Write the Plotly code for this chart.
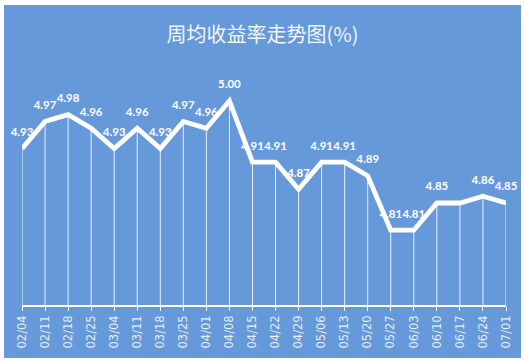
import plotly.graph_objects as go

dates = ["02/04", "02/11", "02/18", "02/25", "03/04", "03/11", "03/18", "03/25",
         "04/01", "04/08", "04/15", "04/22", "04/29", "05/06", "05/13", "05/20",
         "05/27", "06/03", "06/10", "06/17", "06/24", "07/01"]
values = [4.93, 4.97, 4.98, 4.96, 4.93, 4.96, 4.93, 4.97,
          4.96, 5.00, 4.91, 4.91, 4.87, 4.91, 4.91, 4.89,
          4.81, 4.81, 4.85, 4.85, 4.86, 4.85]
show_label = [True] * len(values)
show_label[19] = False  # hidden in the original (overlap)

y_min, y_max = 4.70, 5.05
blue = "#6699d9"

idx = list(range(len(dates)))
labels = [f"{v:.2f}" if s else "" for v, s in zip(values, show_label)]

drop_x, drop_y = [], []
for i, v in zip(idx, values):
    drop_x += [i, i, None]
    drop_y += [y_min, v, None]

fig = go.Figure()
fig.add_trace(go.Scatter(
    x=drop_x, y=drop_y, mode="lines",
    line=dict(color="rgba(255,255,255,0.85)", width=1),
    hoverinfo="skip", showlegend=False, cliponaxis=False))
fig.add_trace(go.Scatter(
    x=idx, y=values, mode="lines+markers+text",
    line=dict(color="white", width=4.8),
    marker=dict(size=14, color="rgba(0,0,0,0)"),
    text=labels, textposition="top center",
    textfont=dict(family="Lato", size=11.5, color="white", weight="bold"),
    showlegend=False, cliponaxis=False))

fig.update_layout(
    width=525, height=363,
    margin=dict(l=22, r=19, t=67, b=58),
    paper_bgcolor="white", plot_bgcolor=blue,
    title=dict(text="周均收益率走势图(%)", x=0.5, xanchor="center",
               y=1 - 35 / 363, yanchor="middle",
               font=dict(family="Noto Sans CJK SC", size=20,
                         color="rgba(255,255,255,0.92)")),
    shapes=[dict(type="rect", xref="paper", yref="paper", layer="below",
                 x0=(4 - 22) / 484, x1=(521 - 22) / 484,
                 y0=(305 - 358) / 238, y1=(305 - 5) / 238,
                 fillcolor=blue, line=dict(width=0))],
    xaxis=dict(range=[0, len(dates) - 1], tickmode="array", tickvals=idx,
               ticktext=dates, tickangle=-90, showgrid=False, zeroline=False,
               showline=True, linecolor="white", linewidth=1.5,
               ticks="outside", ticklen=4, tickcolor="white",
               tickfont=dict(family="DejaVu Sans", size=11.5,
                             color="rgba(255,255,255,0.85)")),
    yaxis=dict(range=[y_min, y_max], visible=False, showgrid=False),
)

fig.write_html("out.html", config={"displayModeBar": False},
               post_script="document.body.style.margin='0';")
